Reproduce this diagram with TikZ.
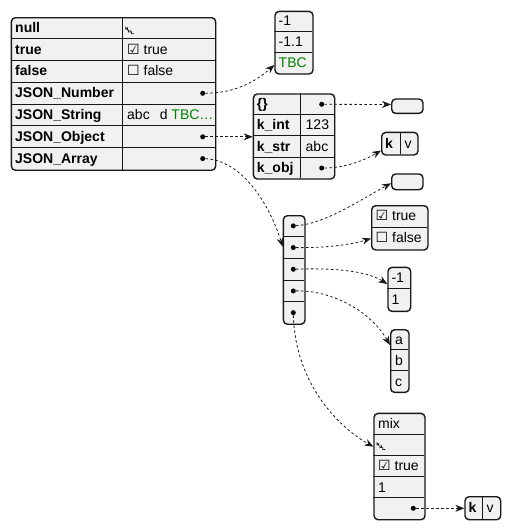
\documentclass[tikz,border=0pt]{standalone}
\usepackage{fontspec}
\setmainfont{Liberation Sans}
\newfontfamily\dv{DejaVu Sans}
\usetikzlibrary{arrows.meta}
\definecolor{bd}{HTML}{181818}
\definecolor{bgc}{HTML}{F1F1F1}
\definecolor{tbc}{HTML}{008000}
\tikzset{
  tbl/.style={draw=bd, fill=bgc, rounded corners=4pt, line width=1.4pt, anchor=north west, inner sep=0pt},
  sep/.style={draw=bd, line width=1pt},
  keyt/.style={anchor=base west, font=\fontsize{14}{16}\selectfont\bfseries},
  valt/.style={anchor=base west},
  jdot/.style={circle, fill=black, minimum size=5pt, inner sep=0pt},
  link/.style={draw=bd, line width=0.8pt, dash pattern=on 2.5pt off 2.5pt, -{Stealth[length=9pt,width=7pt,inset=3pt]}},
  nulg/.pic={
    \draw[bd, line width=0.75pt, line join=miter]
      (0,2.3) -- (0,0) -- (1.8,2.3) -- (1.8,0)
      (2.9,2.4) -- (2.9,4.5) -- (4.5,4.5) -- (4.5,2.4)
      (5.7,3.9) -- (5.7,6.4) -- (8.3,6.4);
  },
}
\begin{document}
\begin{tikzpicture}[x=1pt,y=-1pt, every node/.style={inner sep=0pt, font=\fontsize{14}{16}\selectfont}]
\useasboundingbox (0,0) rectangle (510,530);
% ---------- main table
\node[tbl, minimum width=204.3pt, minimum height=152.5pt] (main) at (10.7,17) {};
\foreach \i in {1,...,6} \draw[sep] (10.7,{17+\i*21.79}) -- (215,{17+\i*21.79});
\draw[sep] (122,17) -- (122,169.5);
\node[keyt] (k1) at (15,32.3) {null};
\node[keyt] (k2) at (15,54.1) {true};
\node[keyt] (k3) at (15,75.9) {false};
\node[keyt] (k4) at (15,97.7) {JSON\_Number};
\node[keyt] (k5) at (15,119.5) {JSON\_String};
\node[keyt] (k6) at (15,141.3) {JSON\_Object};
\node[keyt] (k7) at (15,163.0) {JSON\_Array};
\pic at (125.7,27.4) {nulg};
\node[valt] (v2) at (127,54.1) {{\dv ☑} true};
\node[valt] (v3) at (127,75.9) {{\dv ☐} false};
\node[valt] (v5) at (127,119.5) {abc\kern 10pt d \textcolor{tbc}{TBC…}};
\node[jdot] (dnum) at (202.7,93.3) {};
\node[jdot] (dobj) at (202.7,136.8) {};
\node[jdot] (darr) at (202.7,158.6) {};
% ---------- number box
\node[tbl, minimum width=38pt, minimum height=62.6pt] (num) at (274.3,10.7) {};
\draw[sep] (274.3,31.57) -- (312.3,31.57);
\draw[sep] (274.3,52.43) -- (312.3,52.43);
\node[valt] (n1) at (278.5,25.7) {-1};
\node[valt] (n2) at (278.5,46.6) {-1.1};
\node[valt] (n3) at (278.5,67.4) {\textcolor{tbc}{TBC}};
% ---------- object box
\node[tbl, minimum width=81.3pt, minimum height=85pt] (obj) at (252.7,93.3) {};
\foreach \y in {114.55,135.8,157.05} \draw[sep] (252.7,\y) -- (334,\y);
\draw[sep] (300.3,93.3) -- (300.3,178.3);
\node[keyt] (o1) at (256.7,108.6) {\{\}};
\node[keyt] (o2) at (256.7,129.9) {k\_int};
\node[keyt] (o3) at (256.7,151.1) {k\_str};
\node[keyt] (o4) at (256.7,172.4) {k\_obj};
\node[valt] (ov2) at (305.5,129.9) {123};
\node[valt] (ov3) at (305.5,151.1) {abc};
\node[jdot] (dob1) at (321.7,104.3) {};
\node[jdot] (dob4) at (321.7,168) {};
% ---------- empty boxes
\node[tbl, minimum width=31.3pt, minimum height=14.4pt] (emA) at (391,98.3) {};
\node[tbl, minimum width=31.3pt, minimum height=15.7pt] (emB) at (391,173.3) {};
% ---------- kv boxes
\node[tbl, minimum width=36.3pt, minimum height=22.6pt] (kvA) at (381,131.7) {};
\draw[sep] (400,131.7) -- (400,154.3);
\node[keyt] (kvAk) at (385,148) {k};
\node[valt] (kvAv) at (404.3,148) {v};
\node[tbl, minimum width=35.7pt, minimum height=23pt] (kvB) at (464.3,496) {};
\draw[sep] (482.3,496) -- (482.3,519);
\node[keyt] (kvBk) at (468.3,512.5) {k};
\node[valt] (kvBv) at (486.5,512.5) {v};
% ---------- array box
\node[tbl, minimum width=21.6pt, minimum height=108.5pt] (arr) at (282.7,215) {};
\foreach \y in {236.7,258.4,280.1,301.8} \draw[sep] (282.7,\y) -- (304.3,\y);
\node[jdot] (da1) at (293.3,225.85) {};
\node[jdot] (da2) at (293.3,247.55) {};
\node[jdot] (da3) at (293.3,269.25) {};
\node[jdot] (da4) at (293.3,290.95) {};
\node[jdot] (da5) at (293.3,312.65) {};
% ---------- bool box
\node[tbl, minimum width=56.3pt, minimum height=44.3pt] (bool) at (371,205) {};
\draw[sep] (371,227.15) -- (427.3,227.15);
\node[valt] (b1) at (375.5,220.5) {{\dv ☑} true};
\node[valt] (b2) at (375.5,242.7) {{\dv ☐} false};
% ---------- -1/1 box
\node[tbl, minimum width=22.7pt, minimum height=44pt] (pm) at (387.3,266.7) {};
\draw[sep] (387.3,288.7) -- (410,288.7);
\node[valt] (p1) at (391.3,282.2) {-1};
\node[valt] (p2) at (391.3,304.2) {1};
% ---------- abc box
\node[tbl, minimum width=18.3pt, minimum height=62.7pt] (abc) at (390,329) {};
\draw[sep] (390,349.9) -- (408.3,349.9);
\draw[sep] (390,370.8) -- (408.3,370.8);
\node[valt] (a1) at (395,344.4) {a};
\node[valt] (a2) at (395,365.3) {b};
\node[valt] (a3) at (395,386.2) {c};
% ---------- mix box
\node[tbl, minimum width=51pt, minimum height=106.3pt] (mix) at (373.3,412.7) {};
\foreach \y in {434,455.2,476.5,497.7} \draw[sep] (373.3,\y) -- (424.3,\y);
\node[valt] (m1) at (378,428.2) {mix};
\pic at (377,443) {nulg};
\node[valt] (m3) at (378,470.7) {{\dv ☑} true};
\node[valt] (m4) at (378,492) {1};
\node[jdot] (dm5) at (413.3,508.3) {};
% ---------- connector ends
\coordinate (cnum) at (274.3,65);
\coordinate (cobj) at (252.7,136.8);
\coordinate (carr) at (282.7,246.7);
\coordinate (cemA) at (391,104.5);
\coordinate (ckvA) at (381,150.5);
\coordinate (cemB) at (391,183.3);
\coordinate (cbool) at (371,238.5);
\coordinate (cpm) at (387.3,284);
\coordinate (cabc) at (390,345);
\coordinate (cmix) at (373.3,446.7);
\coordinate (ckvB) at (464.3,508.3);
% ---------- connectors
\draw[link] (dnum) .. controls (235,93) and (255,82) .. (cnum);
\draw[link] (dobj) -- (cobj);
\draw[link] (darr) .. controls (240,160) and (268,200) .. (carr);
\draw[link] (dob1) -- (cemA);
\draw[link] (dob4) .. controls (345,168) and (365,160) .. (ckvA);
\draw[link] (da1) .. controls (325,224) and (360,200) .. (cemB);
\draw[link] (da2) .. controls (325,248) and (350,245) .. (cbool);
\draw[link] (da3) .. controls (330,268) and (365,270) .. (cpm);
\draw[link] (da4) .. controls (330,290) and (370,310) .. (cabc);
\draw[link] (da5) .. controls (295,380) and (335,425) .. (cmix);
\draw[link] (dm5) -- (ckvB);
\end{tikzpicture}
\end{document}
